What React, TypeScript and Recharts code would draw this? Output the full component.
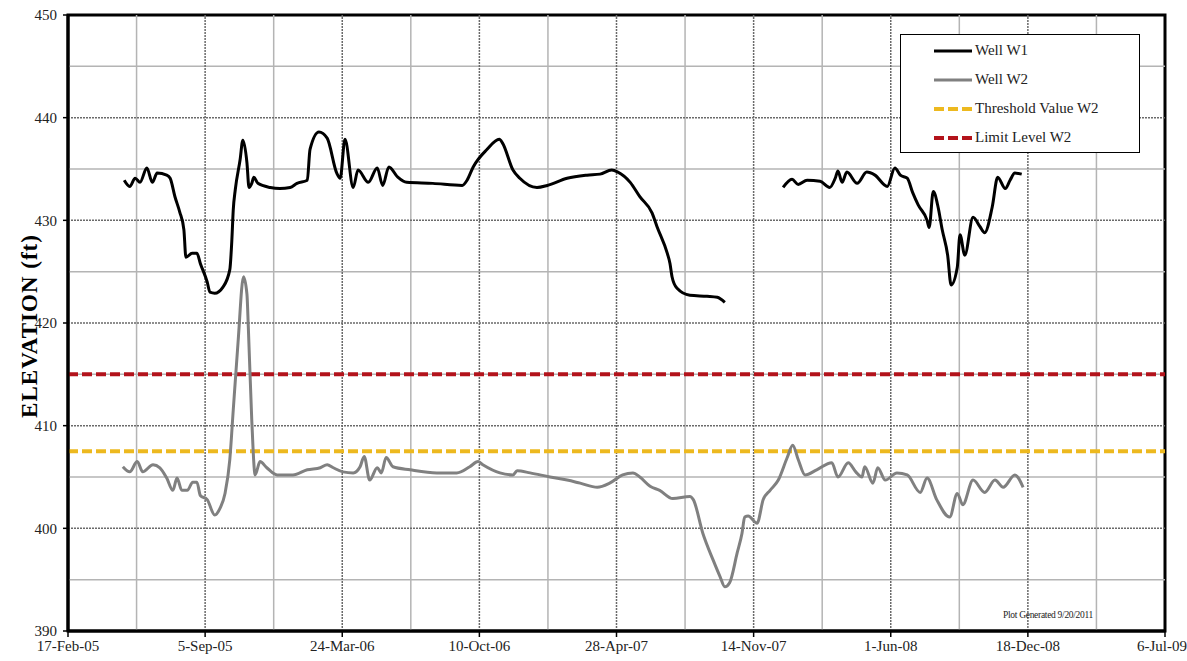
import {
  Line,
  LineChart,
  ReferenceArea,
  ReferenceLine,
  XAxis,
  YAxis,
} from "recharts";

const serif = '"Liberation Serif", "Times New Roman", serif';

// x values are spreadsheet serial dates (days since 30-Dec-1899)
const xTicks = [38400, 38600, 38800, 39000, 39200, 39400, 39600, 39800, 40000];
const xTickLabels = [
  "17-Feb-05",
  "5-Sep-05",
  "24-Mar-06",
  "10-Oct-06",
  "28-Apr-07",
  "14-Nov-07",
  "1-Jun-08",
  "18-Dec-08",
  "6-Jul-09",
];
const yTicks = [390, 400, 410, 420, 430, 440, 450];

const w1Dates = [
  38482, 38490, 38498, 38505, 38515, 38523, 38530, 38544, 38549, 38556, 38563,
  38569, 38572, 38581, 38588, 38593, 38603, 38607, 38614, 38626, 38636, 38639,
  38641, 38644, 38651, 38655, 38661, 38664, 38668, 38671, 38677, 38695, 38709,
  38724, 38734, 38749, 38753, 38766, 38778, 38792, 38797, 38804, 38816, 38823,
  38838, 38851, 38859, 38868, 38881, 38894, 38932, 38975, 38982, 38991, 39011,
  39029, 39034, 39049, 39059, 39084, 39099, 39128, 39157, 39176, 39193, 39202,
  39220, 39234, 39252, 39259, 39274, 39278, 39281, 39288, 39307, 39332, 39347,
  39358,
  // no readings over the winter of 2007-08
  39400,
  39443, 39456, 39465, 39478, 39497, 39511, 39519, 39523, 39529, 39536, 39551,
  39565, 39577, 39595, 39606, 39614, 39624, 39632, 39640, 39653, 39656, 39662,
  39669, 39675, 39683, 39688, 39697, 39701, 39708, 39720, 39730, 39737, 39748,
  39756, 39767, 39774, 39781, 39791,
];
const w1Levels: (number | null)[] = [
  433.9, 433.3, 434.1, 433.7, 435.1, 433.7, 434.6, 434.4, 434.1, 432.3, 430.8,
  429.1, 426.4, 426.8, 426.8, 425.8, 424.0, 423.0, 422.9, 423.5, 425.2, 428.1,
  431.0, 433.0, 435.9, 437.8, 435.6, 433.2, 433.6, 434.2, 433.6, 433.2, 433.1,
  433.2, 433.6, 433.9, 436.9, 438.6, 438.0, 434.6, 434.1, 437.9, 433.2, 434.9,
  433.7, 435.1, 433.4, 435.2, 434.2, 433.7, 433.6, 433.4, 433.9, 435.2, 436.9,
  437.9, 437.5, 434.9, 434.1, 433.2, 433.4, 434.1, 434.4, 434.5, 434.9, 434.7,
  433.7, 432.3, 430.7, 429.4, 426.8, 425.8, 424.5, 423.4, 422.7, 422.6, 422.5,
  422.0,
  null,
  433.2, 434.0, 433.5, 433.9, 433.8, 433.2, 434.1, 434.8, 433.7, 434.7, 433.6,
  434.7, 434.4, 433.3, 435.1, 434.4, 434.1, 432.7, 431.5, 430.0, 429.3, 432.8,
  431.3, 429.1, 426.6, 423.7, 425.4, 428.6, 426.6, 430.3, 429.4, 428.8, 431.3,
  434.2, 433.1, 433.9, 434.6, 434.5,
];

const w2Dates = [
  38480, 38490, 38501, 38509, 38524, 38534, 38544, 38553, 38559, 38566, 38574,
  38582, 38588, 38593, 38603, 38614, 38622, 38629, 38636, 38641, 38648, 38656,
  38661, 38663, 38668, 38673, 38680, 38690, 38705, 38728, 38749, 38768, 38778,
  38787, 38801, 38816, 38826, 38832, 38840, 38851, 38857, 38864, 38874, 38899,
  38938, 38967, 38986, 38998, 39005, 39030, 39049, 39055, 39074, 39103, 39128,
  39147, 39172, 39190, 39209, 39224, 39234, 39249, 39263, 39282, 39307, 39312,
  39326, 39341, 39351, 39358, 39365, 39376, 39383, 39387, 39392, 39405, 39414,
  39424, 39436, 39449, 39457, 39465, 39475, 39492, 39514, 39523, 39538, 39549,
  39558, 39562, 39574, 39581, 39592, 39609, 39624, 39643, 39653, 39667, 39686,
  39697, 39705, 39720, 39737, 39752, 39764, 39781, 39793,
];
const w2Levels = [
  406.0, 405.5, 406.5, 405.5, 406.2, 405.9, 404.9, 403.7, 404.9, 403.7, 403.7,
  404.5, 404.5, 403.2, 402.8, 401.3, 402.0, 403.4, 406.7, 411.5, 418.1, 424.5,
  422.8, 419.6, 410.6, 405.2, 406.5, 405.9, 405.2, 405.2, 405.7, 405.9, 406.2,
  405.9, 405.5, 405.4, 406.0, 407.0, 404.7, 405.9, 405.4, 406.9, 406.0, 405.7,
  405.4, 405.4, 406.0, 406.5, 406.2, 405.4, 405.2, 405.6, 405.4, 405.0, 404.7,
  404.4, 404.0, 404.4, 405.2, 405.4, 405.0, 404.1, 403.7, 402.9, 403.1, 402.8,
  399.5, 396.9, 395.3, 394.3, 394.7, 397.6, 399.5, 401.1, 401.2, 400.5, 402.8,
  403.7, 404.7, 406.9, 408.1, 406.7, 405.2, 405.7, 406.4, 405.0, 406.4, 405.5,
  405.0, 406.0, 404.4, 405.9, 404.7, 405.4, 405.2, 403.5, 404.9, 402.8, 401.1,
  403.4, 402.3, 404.7, 403.5, 404.7, 404.0, 405.2, 404.0,
];

const thresholdW2 = 407.5;
const limitW2 = 415;

const w1Data = w1Dates.map((t, i) => ({ t, v: w1Levels[i] }));
const w2Data = w2Dates.map((t, i) => ({ t, v: w2Levels[i] }));
const xMin = xTicks[0];
const xMax = xTicks[xTicks.length - 1];
const thresholdData = [
  { t: xMin, v: thresholdW2 },
  { t: xMax, v: thresholdW2 },
];
const limitData = [
  { t: xMin, v: limitW2 },
  { t: xMax, v: limitW2 },
];

// light solid lines halfway between the labelled ticks
const xMinor = xTicks.slice(0, -1).map((t) => t + 100);
const yMinor = yTicks.slice(0, -1).map((v) => v + 5);
const xMajor = xTicks.slice(1, -1);
const yMajor = yTicks.slice(1, -1);

const series = [
  { name: "Well W1", color: "#000000", dash: undefined, width: 3 },
  { name: "Well W2", color: "#808080", dash: undefined, width: 3 },
  { name: "Threshold Value W2", color: "#EDB91F", dash: "10 4", width: 4 },
  { name: "Limit Level W2", color: "#B3131B", dash: "10 4", width: 4 },
];

function LegendBox() {
  return (
    <div
      style={{
        position: "absolute",
        left: 900,
        top: 34,
        width: 240,
        height: 119,
        boxSizing: "border-box",
        border: "1.5px solid #000",
        background: "#fff",
        paddingTop: 1,
        paddingLeft: 33,
        fontFamily: serif,
        fontSize: 15,
        color: "#222",
      }}
    >
      {series.map((s) => (
        <div key={s.name} style={{ display: "flex", alignItems: "center", height: 29 }}>
          <svg width={38} height={6} style={{ marginRight: 3 }}>
            <line
              x1={0}
              y1={3}
              x2={38}
              y2={3}
              stroke={s.color}
              strokeWidth={s.width}
              strokeDasharray={s.dash}
            />
          </svg>
          <span>{s.name}</span>
        </div>
      ))}
    </div>
  );
}

const tickStyle = { fontFamily: serif, fontSize: 15, fill: "#222" };

export default function App() {
  return (
    <div
      style={{
        position: "absolute",
        left: 0,
        top: 0,
        width: 1187,
        height: 661,
        background: "#fff",
        fontFamily: serif,
      }}
    >
      <LineChart
        width={1187}
        height={661}
        margin={{ top: 15, right: 22, bottom: 0, left: 0 }}
        style={{ fontFamily: serif }}
      >
        <XAxis
          type="number"
          dataKey="t"
          domain={[xMin, xMax]}
          ticks={xTicks}
          tickFormatter={(t: number) => xTickLabels[xTicks.indexOf(t)] ?? ""}
          height={30}
          tick={tickStyle}
          tickSize={6}
          tickMargin={3}
          axisLine={{ stroke: "#000", strokeWidth: 3 }}
          tickLine={{ stroke: "#000", strokeWidth: 1.5 }}
          allowDataOverflow
        />
        <YAxis
          type="number"
          domain={[390, 450]}
          ticks={yTicks}
          width={68}
          tick={tickStyle}
          tickSize={5}
          tickMargin={6}
          axisLine={{ stroke: "#000", strokeWidth: 3 }}
          tickLine={{ stroke: "#000", strokeWidth: 1.5 }}
          allowDataOverflow
          label={{
            content: () => (
              <text
                x={37}
                y={326}
                transform="rotate(-90 37 326)"
                textAnchor="middle"
                fontFamily={serif}
                fontWeight="bold"
                fontSize={23}
                letterSpacing={1}
                fill="#000"
              >
                ELEVATION (ft)
              </text>
            ),
          }}
        />

        {xMinor.map((t) => (
          <ReferenceLine key={`xm${t}`} x={t} stroke="#b4b4b4" strokeWidth={1.5} />
        ))}
        {yMinor.map((v) => (
          <ReferenceLine key={`ym${v}`} y={v} stroke="#b4b4b4" strokeWidth={1.5} />
        ))}
        {xMajor.map((t) => (
          <ReferenceLine
            key={`xM${t}`}
            x={t}
            stroke="#6a6a6a"
            strokeWidth={1.5}
            strokeDasharray="2 1"
          />
        ))}
        {yMajor.map((v) => (
          <ReferenceLine
            key={`yM${v}`}
            y={v}
            stroke="#6a6a6a"
            strokeWidth={1.5}
            strokeDasharray="2 1"
          />
        ))}

        <ReferenceArea
          x1={xMin}
          x2={xMax}
          y1={390}
          y2={450}
          fill="none"
          stroke="#000"
          strokeWidth={3}
          fillOpacity={0}
        />

        <Line
          data={thresholdData}
          dataKey="v"
          name="Threshold Value W2"
          stroke={series[2].color}
          strokeWidth={4}
          strokeDasharray="10 4"
          dot={false}
          isAnimationActive={false}
        />
        <Line
          data={limitData}
          dataKey="v"
          name="Limit Level W2"
          stroke={series[3].color}
          strokeWidth={4}
          strokeDasharray="10 4"
          dot={false}
          isAnimationActive={false}
        />
        <Line
          data={w2Data}
          dataKey="v"
          name="Well W2"
          type="monotone"
          stroke={series[1].color}
          strokeWidth={3}
          dot={false}
          isAnimationActive={false}
        />
        <Line
          data={w1Data}
          dataKey="v"
          name="Well W1"
          type="monotone"
          stroke={series[0].color}
          strokeWidth={3}
          dot={false}
          isAnimationActive={false}
        />
      </LineChart>
      <LegendBox />
      <div
        style={{
          position: "absolute",
          left: 1003,
          top: 610,
          fontFamily: serif,
          fontSize: 9.5,
          letterSpacing: -0.3,
          color: "#222",
          whiteSpace: "nowrap",
        }}
      >
        Plot Generated 9/20/2011
      </div>
    </div>
  );
}
